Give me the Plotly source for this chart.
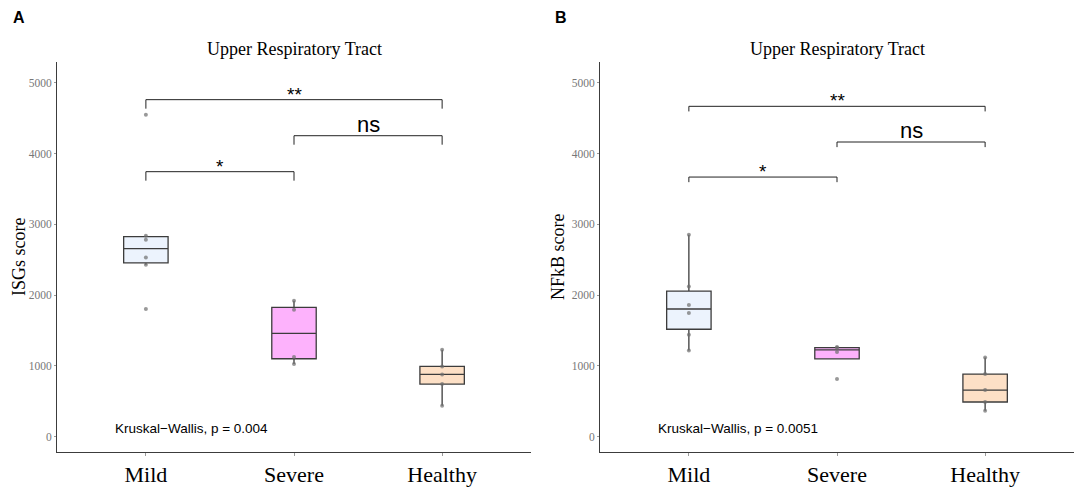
import numpy as np
import plotly.graph_objects as go

groups = ["Mild", "Severe", "Healthy"]
group_pos = [1, 2, 3]
fill_colors = ["#ECF3FD", "#FDB2FC", "#FDE0C6"]

isg_mild = [1804, 2429, 2532, 2782, 2839, 4548]
isg_severe = [1027, 1126, 1794, 1921]
isg_healthy = [438, 744, 880, 993, 1229]

nfkb_mild = [1219, 1441, 1747, 1860, 2123, 2853]
nfkb_severe = [815, 1195, 1255, 1268]
nfkb_healthy = [367, 490, 659, 885, 1120]

y_ticks = [0, 1000, 2000, 3000, 4000, 5000]

# comparisons: (group a, group b, label)
comparisons = [(1, 3, "**"), (2, 3, "ns"), (1, 2, "*")]
isg_bracket_y = [4760, 4251, 3743]
nfkb_bracket_y = [4666, 4162, 3667]
isg_bracket_drop = 127
nfkb_bracket_drop = 72

kw_labels = ["Kruskal\u2212Wallis, p = 0.004", "Kruskal\u2212Wallis, p = 0.0051"]
y_titles = ["ISGs score", "NFkB score"]
panel_letters = ["A", "B"]
title_text = "Upper Respiratory Tract"

W, H = 1079, 488
fig = go.Figure()

panels = [
    dict(data=[isg_mild, isg_severe, isg_healthy], br=isg_bracket_y, drop=isg_bracket_drop,
         xa="x", ya="y", x0=57, x1=531),
    dict(data=[nfkb_mild, nfkb_severe, nfkb_healthy], br=nfkb_bracket_y, drop=nfkb_bracket_drop,
         xa="x2", ya="y2", x0=600, x1=1074),
]

line_col = "#3c3c3c"
y_top_px, y_bot_px = 62, 452
yrange = [-216, 5292]

for pi, p in enumerate(panels):
    for gi, vals in enumerate(p["data"]):
        arr = np.array(vals, dtype=float)
        q1, med, q3 = np.percentile(arr, [25, 50, 75])
        iqr = q3 - q1
        lf = arr[arr >= q1 - 1.5 * iqr].min()
        uf = arr[arr <= q3 + 1.5 * iqr].max()
        fig.add_trace(go.Box(
            x=[group_pos[gi]], q1=[q1], median=[med], q3=[q3],
            lowerfence=[lf], upperfence=[uf], width=0.3,
            fillcolor=fill_colors[gi], line=dict(color=line_col, width=1.3),
            whiskerwidth=0, boxpoints=False, showlegend=False, hoverinfo="skip",
            xaxis=p["xa"], yaxis=p["ya"]))
        fig.add_trace(go.Scatter(
            x=[group_pos[gi]] * len(vals), y=vals, mode="markers",
            marker=dict(color="rgba(110,110,110,0.7)", size=4),
            showlegend=False, hoverinfo="skip", xaxis=p["xa"], yaxis=p["ya"]))
    # brackets
    for (a, b, lab), yb in zip(comparisons, p["br"]):
        fig.add_trace(go.Scatter(
            x=[a, a, b, b], y=[yb - p["drop"], yb, yb, yb - p["drop"]], mode="lines",
            line=dict(color="#222", width=1), showlegend=False, hoverinfo="skip",
            xaxis=p["xa"], yaxis=p["ya"]))
        is_ns = lab == "ns"
        fig.add_annotation(
            x=(a + b) / 2, y=yb, xref=p["xa"], yref=p["ya"], text=lab, showarrow=False,
            yanchor="bottom", yshift=-3 if is_ns else -7,
            font=dict(family="Liberation Sans, Arial", size=22 if is_ns else 19, color="black"))
    # KW label
    fig.add_annotation(x=0.78, y=110, xref=p["xa"], yref=p["ya"], text=kw_labels[pi],
                       showarrow=False, xanchor="left", yanchor="middle",
                       font=dict(family="Liberation Sans, Arial", size=13.5, color="black"))
    # titles
    cx = (p["x0"] + p["x1"]) / 2 / W
    fig.add_annotation(x=cx, y=1 - 49 / H, xref="paper", yref="paper", text=title_text,
                       showarrow=False, xanchor="center", yanchor="middle",
                       font=dict(family="Liberation Serif, Times New Roman", size=18, color="black"))
    ytx = [19, 558][pi]
    fig.add_annotation(x=ytx / W, y=1 - 257 / H, xref="paper", yref="paper", text=y_titles[pi],
                       showarrow=False, textangle=-90, xanchor="center", yanchor="middle",
                       font=dict(family="Liberation Serif, Times New Roman", size=18, color="black"))
    lx = [19, 561][pi]
    fig.add_annotation(x=lx / W, y=1 - 18 / H, xref="paper", yref="paper", text="<b>%s</b>" % panel_letters[pi],
                       showarrow=False, xanchor="center", yanchor="middle",
                       font=dict(family="Liberation Sans, Arial", size=16, color="black"))

common_x = dict(range=[0.4, 3.6], tickvals=group_pos, ticktext=groups, showgrid=False, zeroline=False,
                showline=True, linecolor=line_col, linewidth=1, ticks="outside", ticklen=3,
                tickcolor="#999", tickfont=dict(family="Liberation Serif, Times New Roman", size=22, color="black"))
common_y = dict(range=yrange, tickvals=y_ticks, showgrid=False, zeroline=False,
                showline=True, linecolor=line_col, linewidth=1, ticks="outside", ticklen=2,
                tickcolor="#999", tickfont=dict(family="Liberation Serif, Times New Roman", size=11.5, color="#777"))

dom_y = [1 - y_bot_px / H, 1 - y_top_px / H]
fig.update_layout(
    width=W, height=H, margin=dict(l=0, r=0, t=0, b=0),
    paper_bgcolor="white", plot_bgcolor="white", boxmode="overlay", showlegend=False,
    xaxis=dict(domain=[57 / W, 531 / W], anchor="y", **common_x),
    yaxis=dict(domain=dom_y, anchor="x", **common_y),
    xaxis2=dict(domain=[600 / W, 1074 / W], anchor="y2", **common_x),
    yaxis2=dict(domain=dom_y, anchor="x2", **common_y),
)

fig.write_html("out.html")
